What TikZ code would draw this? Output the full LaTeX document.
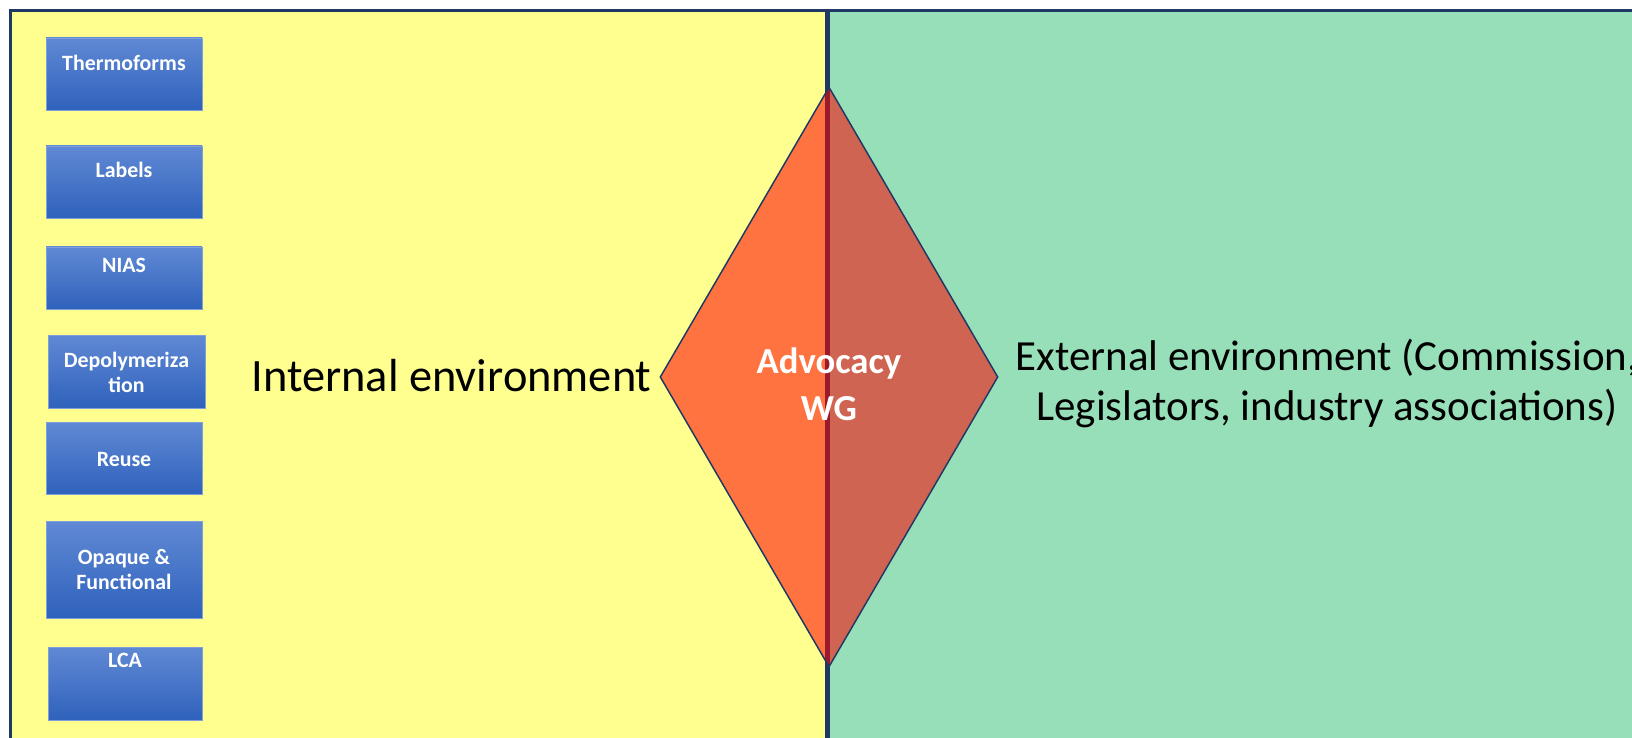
\documentclass[tikz,border=0pt]{standalone}
\usepackage{fontspec}
\setmainfont{Carlito}
\usetikzlibrary{shapes.geometric,positioning}

\definecolor{navyline}{RGB}{32,56,100}
\definecolor{innerfill}{RGB}{255,255,143}
\definecolor{outerfill}{RGB}{151,223,185}
\definecolor{boxtop}{RGB}{96,137,212}
\definecolor{boxbottom}{RGB}{47,98,188}
\definecolor{boxedge}{RGB}{125,160,220}

\tikzset{every picture/.style={line width=0.75pt}}
\tikzset{
  blockbox/.style={draw=boxedge, line width=0.6pt, top color=boxtop, bottom color=boxbottom, minimum width=117pt, inner sep=0pt},
  blocktext/.style={text=white, font=\fontsize{16.4}{18.75}\selectfont\bfseries, align=center, inner sep=0pt},
  envtext/.style={inner sep=0pt},
}

\begin{document}
\begin{tikzpicture}[x=0.75pt,y=0.75pt,yscale=-1,xscale=1]
\clip (0,0) rectangle (1632,738);
\useasboundingbox (0,0) rectangle (1632,738);

%Shape: Rectangle [internal]
\draw [draw=navyline, fill=innerfill, line width=2.25pt] (10,11) rectangle (827,760) ;
%Shape: Rectangle [external]
\draw [draw=navyline, fill=outerfill, line width=2.25pt] (827,11) rectangle (1650,760) ;
%Straight Lines [divider]
\draw [navyline, line width=3.75pt] (827,11) -- (827,760) ;

%Shape: Blue boxes
\node [blockbox, minimum height=54pt] (thermo) at (124,74) {};
\node [blockbox, minimum height=54pt] (labels) at (124,182) {};
\node [blockbox, minimum height=46.5pt] (nias) at (124,278) {};
\node [blockbox, minimum width=117.75pt, minimum height=54.75pt] (depoly) at (126.5,371.5) {};
\node [blockbox, minimum height=54pt] (reuse) at (124,458) {};
\node [blockbox, minimum height=72.75pt] (opaque) at (124,569.5) {};
\node [blockbox, minimum width=115.5pt, minimum height=54.75pt] (lca) at (125,683.5) {};

% Text Node
\node [blocktext] (thermotxt) at (124,63) {Thermoforms};
% Text Node
\node [blocktext] (labelstxt) at (124,170) {Labels};
% Text Node
\node [blocktext] (niastxt) at (124,265) {NIAS};
% Text Node
\node [blocktext] (depolytxt) at (126.5,372) {Depolymeriza\\tion};
% Text Node
\node [blocktext] (reusetxt) at (124,459) {Reuse};
% Text Node
\node [blocktext] (opaquetxt) at (124,570) {Opaque \&\\Functional};
% Text Node
\node [blocktext] (lcatxt) at (125,660) {LCA};

%Shape: Diamond [advocacy]
\node [diamond, draw=navyline, line width=1.1pt, fill=red, fill opacity=0.55, draw opacity=1, minimum width=253.5pt, minimum height=435pt, inner sep=0pt] (wg) at (829,377) {};
% Text Node
\node [text=white, font=\fontsize{27.5}{35}\selectfont\bfseries, align=center, inner sep=0pt] (wgtxt) at (829,384) {Advocacy\\WG};

% Text Node
\node [envtext, font=\fontsize{34.8}{40}\selectfont, anchor=base east] (internal) at (652,391) {Internal environment};
% Text Node
\node [envtext, font=\fontsize{32.2}{37.5}\selectfont, anchor=west, align=center] (external) at (1015,383) {External environment (Commission,\\Legislators, industry associations)};

\end{tikzpicture}
\end{document}
